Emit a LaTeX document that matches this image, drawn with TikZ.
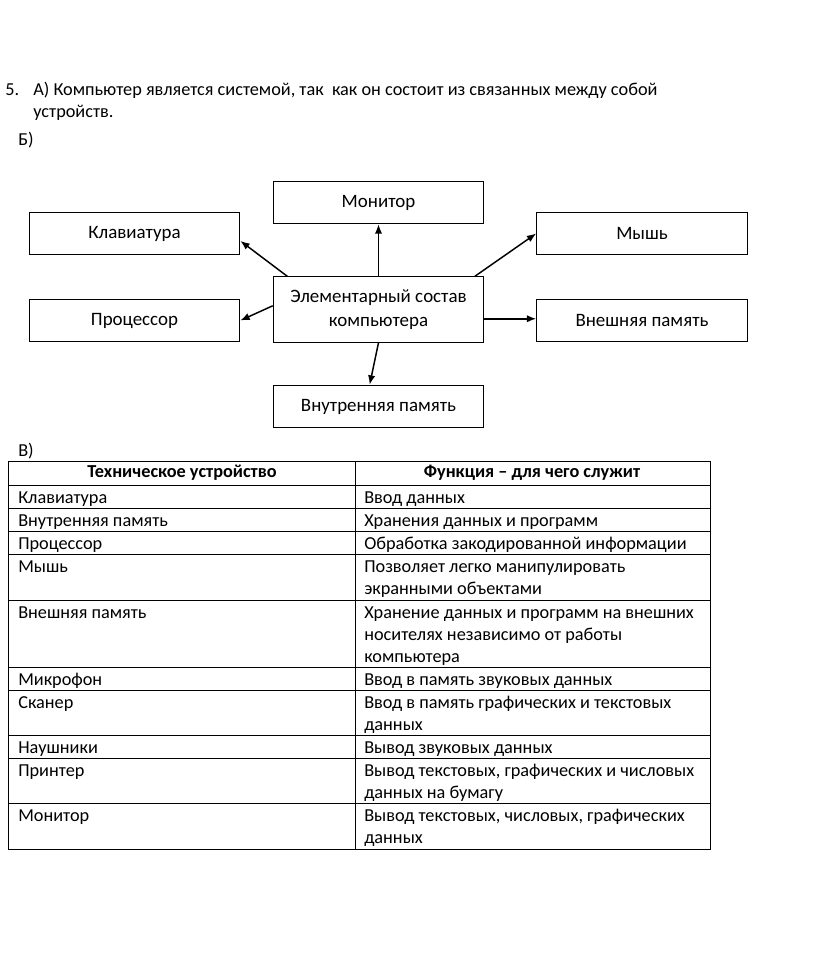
\documentclass[tikz,border=0pt]{standalone}
\usepackage{fontspec}
\setmainfont{Carlito}
\usetikzlibrary{arrows.meta,positioning}

\begin{document}
\begin{tikzpicture}[x=0.75pt,y=-0.75pt,font=\fontsize{13.7}{16.5}\selectfont,
  blok/.style={draw,line width=0.75pt,minimum width=158pt,minimum height=32pt,inner sep=0pt,
    font=\fontsize{14.2}{18}\selectfont},
  strelka/.style={-{Latex[length=7pt,width=5.5pt]},line width=1.1pt},
  yach/.style={anchor=north west,inner sep=0pt,align=left},
  shapka/.style={font=\fontsize{13.7}{16.5}\selectfont\bfseries}]
\useasboundingbox (0,0) rectangle (823,965);
% А)
\node[anchor=base west,inner sep=0pt] (n5) at (5,95) {5.};
\node[anchor=base west,inner sep=0pt] (otvA) at (33,95) {А) Компьютер является системой, так \ как он состоит из связанных между собой};
\node[anchor=base west,inner sep=0pt] (otvA2) at (33,117) {устройств.};
% Б)
\node[anchor=base west,inner sep=0pt] (otvB) at (18,145) {Б)};
\node[blok] (mon) at (378.5,202.5) {Монитор};
\node[blok] (klav) at (134.5,233.5) {Клавиатура};
\node[blok] (mysh) at (642,233.5) {Мышь};
\node[blok,minimum height=49pt,align=center] (sost) at (378.5,309.5) {Элементарный состав\\компьютера};
\node[blok] (proc) at (134.5,320.5) {Процессор};
\node[blok] (vnesh) at (642,320.5) {Внешняя память};
\node[blok] (vnutr) at (378.5,406.5) {Внутренняя память};
\draw[strelka] (sost.160)--(klav.-4); \draw[strelka] (sost.north)--(mon.south);
\draw[strelka] (sost.19)--(mysh.west); \draw[strelka] (sost.178)--(proc.east);
\draw[strelka] (sost.-5)--(sost.-5 -| vnesh.west); \draw[strelka] (sost.south)--(vnutr.112);
% В)
\node[anchor=base west,inner sep=0pt] (otvV) at (18,456) {В)};
\draw[line width=0.75pt] (8,461) rectangle (710,849);
\draw[line width=0.75pt] (355,461) -- (355,849);
\foreach \y in {485,508,531,554,600,667,690,735,758,803}
  \draw[line width=0.75pt] (8,\y) -- (710,\y);
\node[shapka] (h1) at (182,473) {Техническое устройство};
\node[shapka] (h2) at (532,473) {Функция – для чего служит};
\foreach \y/\ustr/\funk in {
  485/Клавиатура/Ввод данных,
  508/Внутренняя память/Хранения данных и программ,
  531/Процессор/Обработка закодированной информации,
  554/Мышь/{Позволяет легко манипулировать\\экранными объектами},
  600/Внешняя память/{Хранение данных и программ на внешних\\носителях независимо от работы\\компьютера},
  667/Микрофон/Ввод в память звуковых данных,
  690/Сканер/{Ввод в память графических и текстовых\\данных},
  735/Наушники/Вывод звуковых данных,
  758/Принтер/{Вывод текстовых, графических и числовых\\данных на бумагу},
  803/Монитор/{Вывод текстовых, числовых, графических\\данных}}
{
  \node[yach] (u\y) at (18,\y+3) {\strut\ustr};
  \node[yach] (f\y) at (364,\y+3) {\strut\funk};
}
\end{tikzpicture}
\end{document}
